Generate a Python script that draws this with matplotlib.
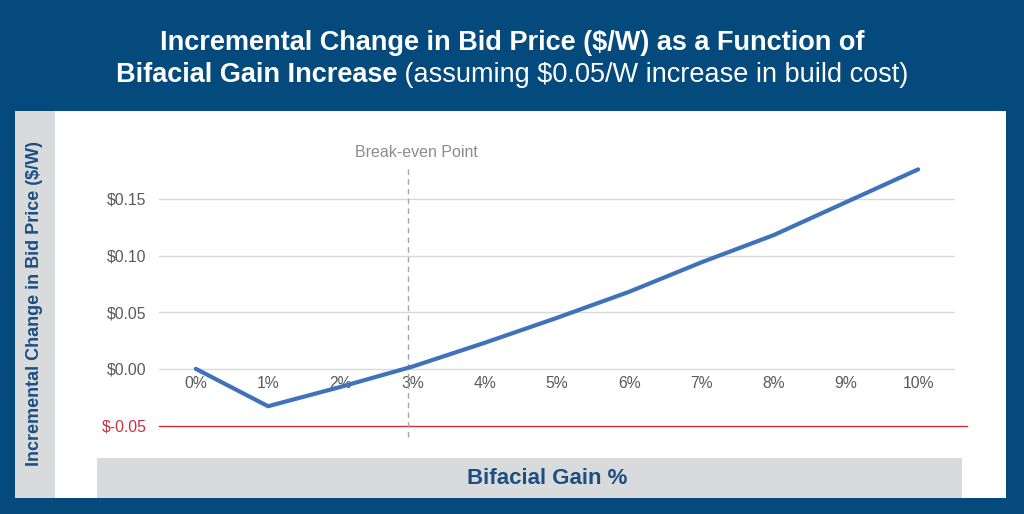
# Incremental change in bid price vs bifacial gain
import numpy as np
import matplotlib.pyplot as plt
import matplotlib.patches as patches
import matplotlib.transforms as mtransforms

# data
gain_labels = ['0%', '1%', '2%', '3%', '4%', '5%', '6%', '7%', '8%', '9%', '10%']
bid_change = [0.000, -0.033, -0.016, 0.002, 0.023, 0.045, 0.068, 0.094, 0.118, 0.147, 0.176]
y_ticks = [-0.05, 0.00, 0.05, 0.10, 0.15]
y_tick_labels = ['$-0.05', '$0.00', '$0.05', '$0.10', '$0.15']
break_even_x = 2.94

navy = '#044A7C'
dark_blue = '#1B4F82'
line_blue = '#3F72BA'
grey_band = '#D9DADB'
tick_grey = '#595959'
red = '#C9303A'

plt.rcParams['font.family'] = ['Liberation Sans', 'DejaVu Sans']

fig = plt.figure(figsize=(10.24, 5.14), dpi=100, facecolor=navy)
W, H = 1024, 514

def px(x0, y0, x1, y1):
    # pixel box (top-left origin) -> figure rect
    return [x0 / W, 1 - y1 / H, (x1 - x0) / W, (y1 - y0) / H]

# panels
for (x0, y0, x1, y1), col in [((55, 111, 1006, 498), 'white'),
                              ((15, 111, 55, 498), grey_band),
                              ((97, 458, 962, 498), grey_band)]:
    r = px(x0, y0, x1, y1)
    fig.add_artist(patches.Rectangle((r[0], r[1]), r[2], r[3], transform=fig.transFigure,
                                     facecolor=col, edgecolor='none', zorder=0))

# title
fig.text(0.5, 1 - 43 / H, 'Incremental Change in Bid Price ($/W) as a Function of',
         ha='center', va='center', color='white', fontsize=19.5, fontweight='bold')
t1 = fig.text(0, 1 - 75 / H, 'Bifacial Gain Increase', ha='left', va='center',
              color='white', fontsize=19.5, fontweight='bold')
t2 = fig.text(0, 1 - 75 / H, ' (assuming $0.05/W increase in build cost)', ha='left',
              va='center', color='white', fontsize=19.5)
renderer = fig.canvas.get_renderer()
w1 = t1.get_window_extent(renderer).width
w2 = t2.get_window_extent(renderer).width
start = (W - (w1 + w2)) / 2
t1.set_x(start / W)
t2.set_x((start + w1) / W)

# axis titles
fig.text(35 / W, 1 - 304 / H, 'Incremental Change in Bid Price ($/W)', rotation=90,
         ha='center', va='center', color=dark_blue, fontsize=13, fontweight='bold')
fig.text(547 / W, 1 - 479 / H, 'Bifacial Gain %', ha='center', va='center',
         color=dark_blue, fontsize=16, fontweight='bold')

# plot area
ax = fig.add_axes(px(159, 153.5, 955, 442.5))
ax.set_facecolor('none')
x = np.arange(len(gain_labels))
ax.plot(x, bid_change, color=line_blue, lw=3, solid_capstyle='round', zorder=3)
ax.set_xlim(-0.51, 10.51)
ax.set_ylim(-0.065, 0.19)

for s in ax.spines.values():
    s.set_visible(False)
ax.spines['bottom'].set_position(('data', 0))
ax.set_xticks(x)
ax.set_xticklabels(gain_labels)
ax.tick_params(axis='x', length=0, pad=5, labelsize=11.3, labelcolor=tick_grey)
ax.set_yticks(y_ticks)
ax.set_yticklabels(y_tick_labels)
ax.tick_params(axis='y', length=0, pad=9, labelsize=11.3, labelcolor=tick_grey)
ax.get_yticklabels()[0].set_color(red)

for v in y_ticks[1:]:
    ax.axhline(v, color='#D9D9D9', lw=1, zorder=1)
ax.plot([0, 1.015], [y_ticks[0]] * 2, color=red, lw=1,
        transform=mtransforms.blended_transform_factory(ax.transAxes, ax.transData),
        clip_on=False, zorder=2)

ax.axvline(break_even_x, ymin=0.019, ymax=0.957, color='#A6A6A6', lw=1,
           ls=(0, (4, 3)), zorder=2)
ax.text(break_even_x + 0.12, 1.005, 'Break-even Point', ha='center', va='center',
        color='#8C8C8C', fontsize=11.5,
        transform=mtransforms.blended_transform_factory(ax.transData, ax.transAxes))

plt.savefig('out.png', dpi=100, facecolor=navy)
